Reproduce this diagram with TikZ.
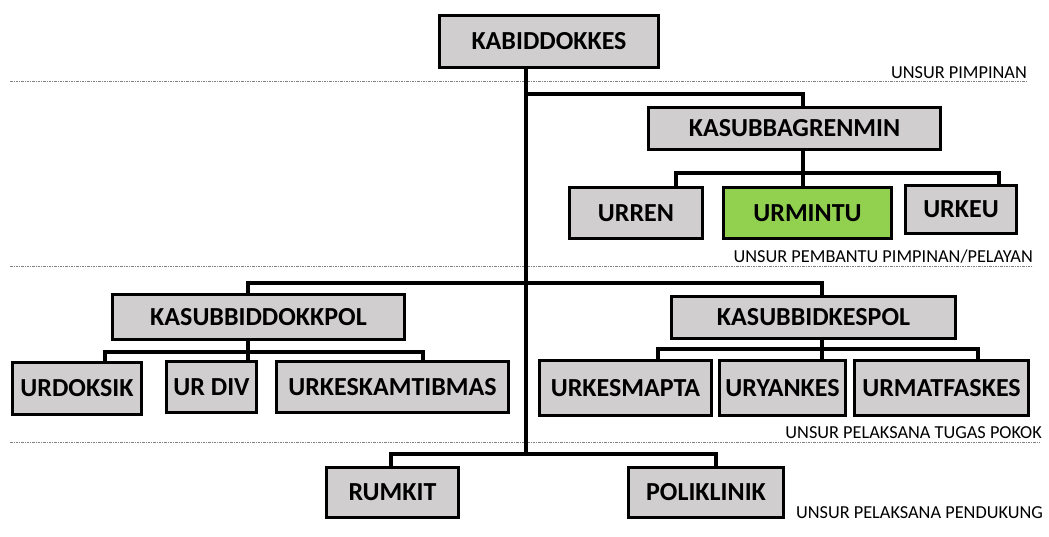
\documentclass[tikz,border=0pt]{standalone}
\usepackage{fontspec}
\setmainfont{Carlito}
\definecolor{boxgray}{HTML}{D0CECE}
\definecolor{mintugreen}{HTML}{92D050}
\definecolor{levelgray}{HTML}{808080}

\begin{document}
\begin{tikzpicture}[x=1pt, y=-1pt,
    unit/.style={draw=black, line width=3pt, fill=boxgray, inner sep=0pt,
        font=\fontsize{26}{30}\selectfont\bfseries},
    link/.style={draw=black, line width=3.5pt},
    level/.style={draw=levelgray, line width=0.7pt,
        dash pattern=on 2.5pt off 1.2pt on 0.6pt off 1.2pt},
    tag/.style={inner sep=0pt, anchor=base east, font=\fontsize{18.3}{22}\selectfont}]
    \useasboundingbox (0,0) rectangle (1049,537);

    % Garis batas unsur
    \foreach \y/\xe in {81/1027, 266/1033, 442/1040} {
        \draw[level] (10,\y) -- (\xe,\y);
    }
    \foreach \name/\x/\y/\txt in {
        tagA/1027/79/UNSUR PIMPINAN,
        tagB/1033/263/{UNSUR PEMBANTU PIMPINAN/PELAYAN},
        tagC/1042/438/UNSUR PELAKSANA TUGAS POKOK,
        tagD/1043/518/UNSUR PELAKSANA PENDUKUNG
        } {
        \node[tag] (\name) at (\x,\y) {\txt};
    }

    % Pimpinan dan Kasubbag
    \node[unit, minimum width=219, minimum height=52] (kabid) at (549,41.5) {KABIDDOKKES};
    \node[unit, minimum width=292, minimum height=42] (renmin) at (794.5,128.5) {KASUBBAGRENMIN};

    % Urusan Kasubbagrenmin
    \foreach \name/\x/\y/\w/\h/\txt in {
        urren/636/213/133/51/URREN,
        urkeu/961/209.5/111/48/URKEU
        } {
        \node[unit, minimum width=\w, minimum height=\h] (\name) at (\x,\y) {\txt};
    }
    \node[unit, fill=mintugreen, minimum width=168, minimum height=51] (urmintu) at (807.5,213) {URMINTU};

    % Kasubbid
    \node[unit, minimum width=292, minimum height=45] (dokkpol) at (258.5,317) {KASUBBIDDOKKPOL};
    \node[unit, minimum width=284, minimum height=42] (kespol) at (813.5,317.5) {KASUBBIDKESPOL};

    % Urusan Kasubbid
    \foreach \name/\x/\y/\w/\h/\txt in {
        urdoksik/77/388.5/129/52/URDOKSIK,
        urdiv/211.5/387/90/51/UR DIV,
        urkeskam/392.5/387/232/51/URKESKAMTIBMAS,
        urkesmapta/625.5/388/172/55/URKESMAPTA,
        uryankes/782.5/388/126/55/URYANKES,
        urmatfaskes/941.5/388/174/55/URMATFASKES
        } {
        \node[unit, minimum width=\w, minimum height=\h] (\name) at (\x,\y) {\txt};
    }

    % Pelaksana pendukung
    \node[unit, minimum width=132, minimum height=50] (rumkit) at (392.5,492.5) {RUMKIT};
    \node[unit, minimum width=155, minimum height=50] (polik) at (706,492.5) {POLIKLINIK};

    % Garis komando
    \coordinate (trunkend) at (526,454);
    \coordinate (splitA) at (526,94);
    \coordinate (renminX) at (803,94);
    \draw[link] (kabid.south -| trunkend) -- (trunkend);
    \draw[link] (splitA) -- (renminX) -- (renminX |- renmin.north);

    \coordinate (busA) at (676,173);
    \coordinate (busB) at (999,173);
    \draw[link] (renmin.south -| renminX) -- (renminX |- urmintu.north);
    \draw[link] (busA |- urren.north) -- (busA) -- (busB) -- (busB |- urkeu.north);

    \coordinate (busC) at (248,283);
    \coordinate (busD) at (822,283);
    \draw[link] (busC |- dokkpol.north) -- (busC) -- (busD) -- (busD |- kespol.north);

    \coordinate (busE) at (105,352);
    \coordinate (busF) at (423,352);
    \draw[link] (dokkpol.south -| busC) -- (busC |- urdiv.north);
    \draw[link] (busE |- urdoksik.north) -- (busE) -- (busF) -- (busF |- urkeskam.north);

    \coordinate (busG) at (658,349);
    \coordinate (busH) at (978,349);
    \draw[link] (kespol.south -| busD) -- (busD |- uryankes.north);
    \draw[link] (busG |- urkesmapta.north) -- (busG) -- (busH) -- (busH |- urmatfaskes.north);

    \coordinate (busI) at (391,454);
    \coordinate (busJ) at (716,454);
    \draw[link] (busI |- rumkit.north) -- (busI) -- (busJ) -- (busJ |- polik.north);
\end{tikzpicture}
\end{document}
